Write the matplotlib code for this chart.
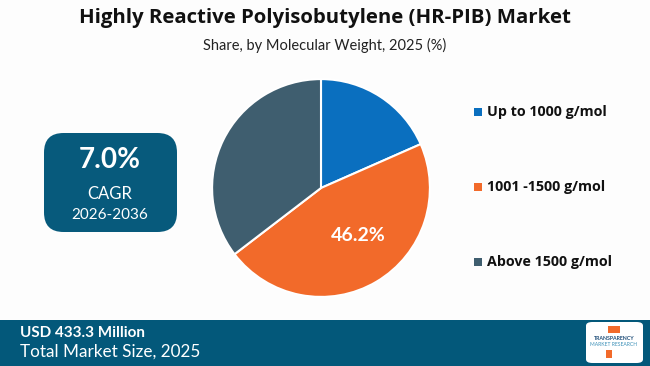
import matplotlib.pyplot as plt
from matplotlib.patches import FancyBboxPatch, Rectangle

plt.rcParams['font.family'] = ['Lato', 'DejaVu Sans']

categories = ["Up to 1000 g/mol", "1001 -1500 g/mol", "Above 1500 g/mol"]
shares = [18.4, 46.2, 35.4]
colors = ["#0A6FBF", "#F26A2A", "#3F5E6F"]

title = "Highly Reactive Polyisobutylene (HR-PIB) Market"
subtitle = "Share, by Molecular Weight, 2025 (%)"
cagr_value = "7.0%"
cagr_period = "2026-2036"
market_size = "USD 433.3 Million"
market_label = "Total Market Size, 2025"

W, H = 650, 366
fig = plt.figure(figsize=(6.5, 3.66), dpi=100)
fig.patch.set_facecolor("#FDFDFD")


def fx(x):
    return x / W


def fy(y):
    return 1 - y / H


fig.text(0.5, fy(18), title, ha="center", va="center", fontsize=14.7,
         fontweight="bold", color="#111111", family=["Open Sans", "DejaVu Sans"])
fig.text(0.5, fy(45), subtitle, ha="center", va="center", fontsize=10.5,
         color="#222222")

# pie
ax = fig.add_axes([fx(211), fy(298), fx(220), 220 / H])
wedges, texts = ax.pie(shares, colors=colors, startangle=90, counterclock=False,
                       wedgeprops=dict(edgecolor="white", linewidth=1.5))
ax.set_xlim(-1.01, 1.01)
ax.set_ylim(-1.01, 1.01)
ax.set_aspect("equal")
ax.text(0.34, -0.44, f"{shares[1]}%", ha="center", va="center", color="white",
        fontsize=14, fontweight="bold")

# legend
legend_y = [112, 187, 262]
for i in range(len(categories)):
    fig.patches.append(Rectangle((fx(474), fy(legend_y[i] + 4)), fx(8), 8 / H,
                                 transform=fig.transFigure, facecolor=colors[i],
                                 edgecolor="none"))
    fig.text(fx(487), fy(legend_y[i]), categories[i], ha="left", va="center",
             fontsize=10.3, fontweight="bold", color="#111111",
             family=["Open Sans", "DejaVu Sans"])

# CAGR box
box = FancyBboxPatch((fx(44), fy(232)), fx(133), 99 / H,
                     boxstyle="round,pad=0,rounding_size=0.03",
                     transform=fig.transFigure, facecolor="#075A7C",
                     edgecolor="none", mutation_aspect=W / H)
fig.patches.append(box)
fig.text(fx(110), fy(160), cagr_value, ha="center", va="center", fontsize=20,
         fontweight="bold", color="white")
fig.text(fx(110), fy(194), "CAGR", ha="center", va="center", fontsize=12,
         color="white")
fig.text(fx(110), fy(215), cagr_period, ha="center", va="center", fontsize=11,
         color="white")

# bottom banner
fig.patches.append(Rectangle((0, 0), 1, 46 / H, transform=fig.transFigure,
                             facecolor="#03587A", edgecolor="none"))
fig.text(fx(20), fy(333), market_size, ha="left", va="center", fontsize=11,
         fontweight="bold", color="white")
fig.text(fx(20), fy(352), market_label, ha="left", va="center", fontsize=12.3,
         color="white")

# logo
logo = FancyBboxPatch((fx(586), fy(363)), fx(57), 41 / H,
                      boxstyle="round,pad=0,rounding_size=0.01",
                      transform=fig.transFigure, facecolor="white",
                      edgecolor="none")
fig.patches.append(logo)
fig.patches.append(Rectangle((fx(608), fy(333)), fx(12), 7 / H,
                             transform=fig.transFigure, facecolor="#F26A2A",
                             edgecolor="none"))
fig.text(fx(614), fy(339), "TRANSPARENCY", ha="center", va="center",
         fontsize=3.8, fontweight="bold", color="#1F4E79")
fig.text(fx(614), fy(345), "MARKET RESEARCH", ha="center", va="center",
         fontsize=3.6, color="#3A8FB7")
fig.patches.append(Rectangle((fx(606), fy(358)), fx(6), 8 / H,
                             transform=fig.transFigure, facecolor="#F26A2A",
                             edgecolor="none"))

fig.savefig("out.png", dpi=100, facecolor=fig.get_facecolor())
